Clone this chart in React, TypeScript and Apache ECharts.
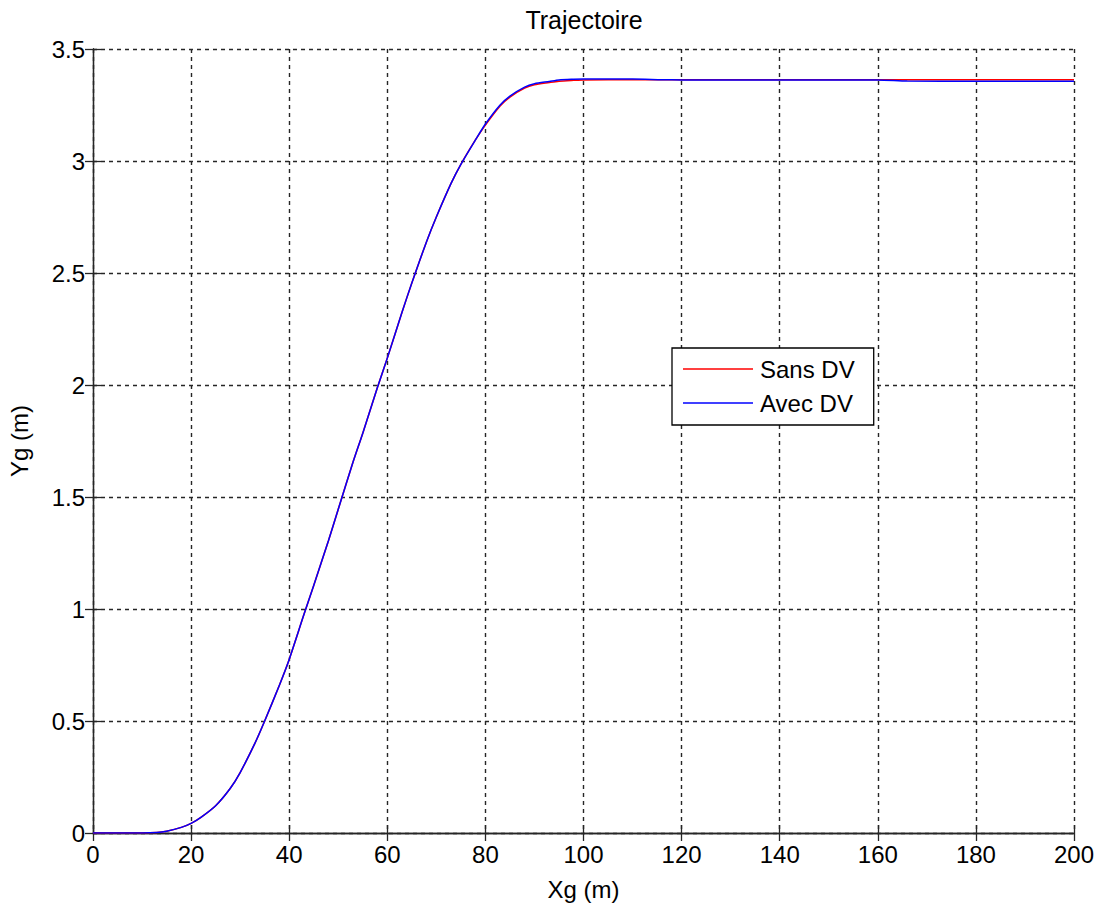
import React, { useEffect, useRef } from "react";
import * as echarts from "echarts";

const xs = [0, 5, 10, 13, 15, 18, 20, 22, 25, 28, 30, 33, 35, 38, 40, 43, 45, 48, 50, 53, 55, 58, 60, 63, 65, 68, 70, 73, 75, 78, 80, 83, 85, 88, 90, 93, 95, 98, 100, 110, 116, 120, 140, 160, 166, 180, 200];
const yAvec = [0, 0, 0, 0.002, 0.008, 0.025, 0.043, 0.07, 0.122, 0.2, 0.27, 0.4, 0.5, 0.66, 0.775, 0.975, 1.105, 1.305, 1.445, 1.655, 1.785, 1.99, 2.12, 2.325, 2.455, 2.64, 2.75, 2.9, 2.985, 3.095, 3.165, 3.25, 3.29, 3.33, 3.345, 3.355, 3.362, 3.365, 3.366, 3.366, 3.363, 3.362, 3.362, 3.362, 3.357, 3.356, 3.356];
const ySans = [0, 0, 0, 0.002, 0.008, 0.025, 0.043, 0.07, 0.122, 0.2, 0.27, 0.4, 0.5, 0.66, 0.775, 0.975, 1.105, 1.305, 1.445, 1.655, 1.785, 1.99, 2.12, 2.325, 2.455, 2.64, 2.75, 2.9, 2.985, 3.095, 3.16, 3.245, 3.285, 3.325, 3.34, 3.35, 3.356, 3.36, 3.362, 3.363, 3.363, 3.363, 3.363, 3.363, 3.363, 3.363, 3.363];
const seriesNames = ["Sans DV", "Avec DV"];
const seriesColors = ["#ff0000", "#0000ff"];
const titleText = "Trajectoire";

const FONT = "Liberation Sans, Arial, sans-serif";

export default function App() {
  const ref = useRef<HTMLDivElement>(null);
  useEffect(() => {
    if (!ref.current) return;
    const chart = echarts.init(ref.current, null, { renderer: "svg" });
    const sansData = xs.map((x, i) => [x, ySans[i]]);
    const avecData = xs.map((x, i) => [x, yAvec[i]]);
    const axisCommon = {
      type: "value" as const,
      axisLine: { show: true, lineStyle: { color: "#262626", width: 1.3 } },
      axisTick: { show: true, inside: true, length: 8, lineStyle: { color: "#262626", width: 1.3 } },
    };
    const gridLine = { show: true, lineStyle: { color: "#262626", type: [4, 4], width: 1.4 } };
    chart.setOption({
      animation: false,
      backgroundColor: "#ffffff",
      graphic: [
        {
          type: "text",
          x: 584,
          y: 20,
          style: {
            text: titleText,
            fontFamily: FONT,
            fontSize: 25,
            fill: "#000",
            align: "center",
            verticalAlign: "middle",
          },
        },
      ],
      legend: {
        orient: "vertical",
        left: 672,
        top: 348,
        data: seriesNames,
        icon: "rect",
        backgroundColor: "#ffffff",
        borderColor: "#000",
        borderWidth: 1.3,
        borderRadius: 0,
        padding: [9, 19, 10, 11],
        itemWidth: 70,
        itemHeight: 1.5,
        itemGap: 10,
        textStyle: { fontFamily: FONT, fontSize: 24, lineHeight: 24, color: "#000", padding: [0, 0, 0, 2] },
      },
      grid: { left: 93, right: 26, top: 49, bottom: 70, containLabel: false, outerBoundsMode: "none", show: false },
      xAxis: [
        {
          ...axisCommon,
          position: "bottom",
          min: 0,
          max: 200,
          interval: 20,
          name: "Xg (m)",
          nameLocation: "middle",
          nameGap: 44,
          nameTextStyle: { fontFamily: FONT, fontSize: 24, color: "#000" },
          axisLabel: { fontFamily: FONT, fontSize: 24, color: "#000", margin: 9 },
          splitLine: gridLine,
        },
        {
          ...axisCommon,
          position: "top",
          min: 0,
          max: 200,
          interval: 20,
          axisLabel: { show: false },
          splitLine: { show: false },
        },
      ],
      yAxis: [
        {
          ...axisCommon,
          position: "left",
          min: 0,
          max: 3.5,
          interval: 0.5,
          name: "Yg (m)",
          nameLocation: "middle",
          nameGap: 62,
          nameTextStyle: { fontFamily: FONT, fontSize: 24, color: "#000" },
          axisLabel: { fontFamily: FONT, fontSize: 24, color: "#000", margin: 8 },
          splitLine: gridLine,
        },
        {
          ...axisCommon,
          position: "right",
          min: 0,
          max: 3.5,
          interval: 0.5,
          axisLabel: { show: false },
          splitLine: { show: false },
        },
      ],
      series: [
        {
          name: seriesNames[0],
          type: "line",
          data: sansData,
          symbol: "none",
          smooth: 0.25,
          color: seriesColors[0],
          lineStyle: { color: seriesColors[0], width: 1.5 },
        },
        {
          name: seriesNames[1],
          type: "line",
          data: avecData,
          symbol: "none",
          smooth: 0.25,
          color: seriesColors[1],
          lineStyle: { color: seriesColors[1], width: 1.5 },
        },
      ],
    });
    return () => chart.dispose();
  }, []);
  return (
    <div
      ref={ref}
      style={{ position: "fixed", left: 0, top: 0, width: 1100, height: 903, background: "#fff" }}
    />
  );
}
